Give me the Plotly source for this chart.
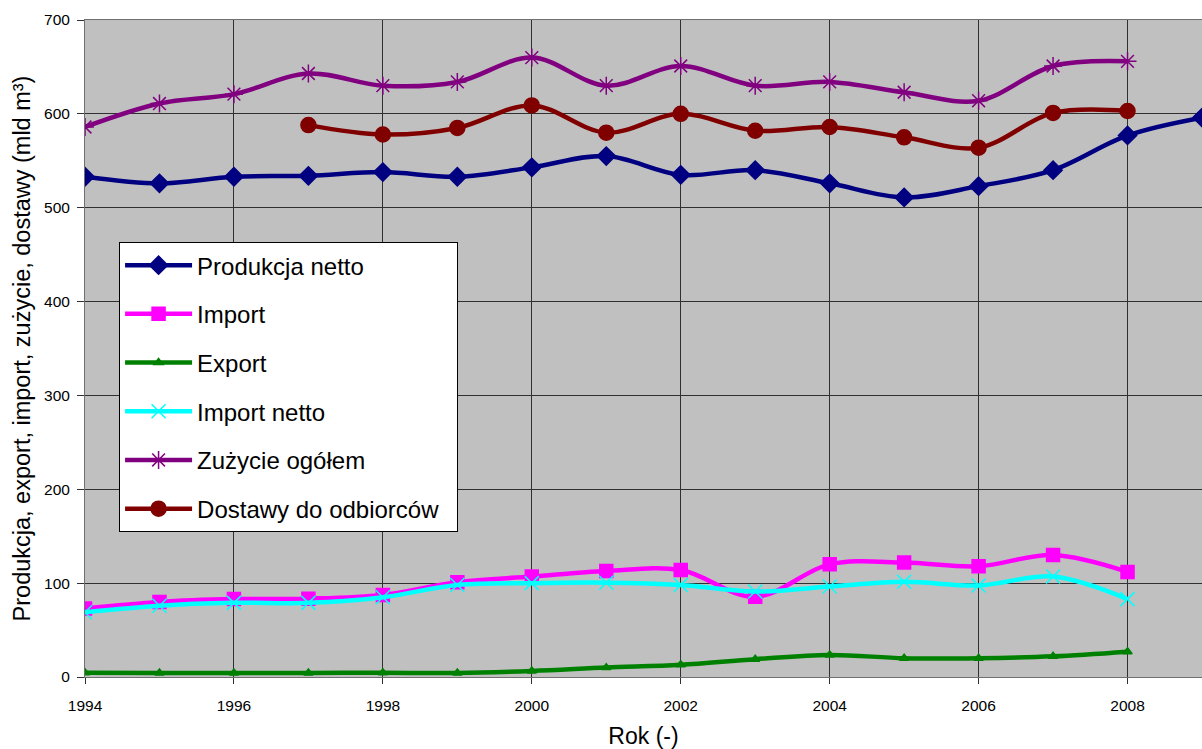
import plotly.graph_objects as go

years = list(range(1994, 2010))
produkcja = [533, 526, 533, 534, 538, 533, 543, 555, 535, 540, 526, 511, 523, 540, 577, 596]
import_ = [73, 80, 83, 83.5, 87.5, 101, 107, 113, 114, 85.5, 120, 122, 118, 130, 112]
export = [4.5, 4.3, 4.3, 4.3, 4.5, 4.3, 6.4, 10, 13, 19, 23.5, 20, 20, 22, 27]
import_netto = [69, 76, 79, 79, 85, 98, 100, 100.5, 98, 91, 96.5, 101.5, 97.5, 107, 83]
zuzycie = [586, 611, 621, 643, 630, 634, 660, 630, 651, 630, 634, 623, 614, 651, 656]
dostawy_years = list(range(1997, 2009))
dostawy = [588, 578, 585, 609, 580, 600, 582, 586, 575, 564, 601, 603]

x_ticks = [1994, 1996, 1998, 2000, 2002, 2004, 2006, 2008]
y_ticks = [0, 100, 200, 300, 400, 500, 600, 700]

series = [
    ("Produkcja netto", years, produkcja, "#000080", "diamond", 14),
    ("Import", years[:15], import_, "#FF00FF", "square", 13),
    ("Export", years[:15], export, "#008000", "triangle-up", 8),
    ("Import netto", years[:15], import_netto, "#00FFFF", "x-thin-open", 14),
    ("Zużycie ogółem", years[:15], zuzycie, "#800080", "asterisk-open", 15),
    ("Dostawy do odbiorców\u00a0\u00a0", dostawy_years, dostawy, "#800000", "circle", 15),
]

fig = go.Figure()
for i, (name, xs, ys, col, sym, sz) in enumerate(series):
    fig.add_trace(go.Scatter(
        x=xs, y=ys, name=name, mode="lines+markers",
        line=dict(color=col, width=4.5, shape="spline", smoothing=1),
        marker=dict(symbol=sym, size=sz, color=col,
                    line=dict(color=col, width=1.5)),
        legendgroup=f"g{i}",
    ))

FONT = "Liberation Sans, Arial, sans-serif"
fig.update_layout(
    width=1202, height=749,
    margin=dict(l=85, r=0, t=20, b=72),
    paper_bgcolor="white",
    plot_bgcolor="#C0C0C0",
    font=dict(family=FONT, color="black", size=15.5),
    showlegend=True,
    legend=dict(
        x=0.0305, y=0.662, xanchor="left", yanchor="top",
        bgcolor="white", bordercolor="black", borderwidth=1,
        font=dict(size=24, family=FONT, color="black"),
        tracegroupgap=14.5, itemwidth=67,
        traceorder="grouped",
    ),
    xaxis=dict(
        range=[1994, 2009], tickmode="array",
        tickvals=x_ticks, ticktext=[str(v) for v in x_ticks],
        showgrid=True, gridcolor="#303030", gridwidth=1,
        ticks="outside", ticklen=6, tickcolor="#303030",
        ticklabelstandoff=8,
        showline=True, linecolor="#707070", linewidth=1, mirror=True,
        zeroline=False,
        title=dict(text="Rok (-)", font=dict(size=23), standoff=17),
        tickfont=dict(size=15.5),
    ),
    yaxis=dict(
        range=[0, 700], tickmode="array",
        tickvals=y_ticks,
        showgrid=True, gridcolor="#303030", gridwidth=1,
        ticks="outside", ticklen=7, tickcolor="#303030",
        ticklabelstandoff=4,
        showline=True, linecolor="#707070", linewidth=1, mirror=True,
        zeroline=False,
        title=dict(text="Produkcja, export, import, zużycie, dostawy (mld m³)",
                   font=dict(size=23.5), standoff=6),
        tickfont=dict(size=15.5),
    ),
)

fig.write_html("out.html")
